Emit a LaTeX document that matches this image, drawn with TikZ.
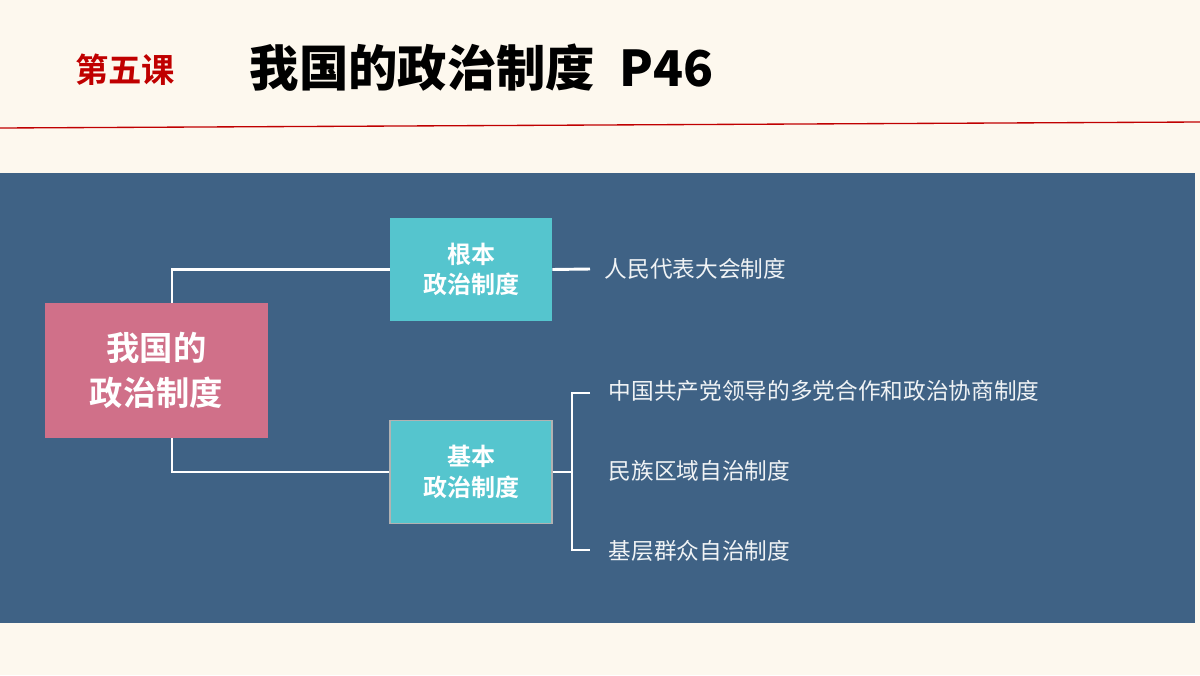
\documentclass[tikz,border=0pt]{standalone}
\usepackage{fontspec}
\newfontfamily\cjk{Noto Sans CJK SC}
\newfontfamily\cjkb{Noto Sans CJK SC Bold}
\definecolor{bg}{HTML}{FDF8EE}
\definecolor{panel}{HTML}{3F6285}
\definecolor{pinkb}{HTML}{D07089}
\definecolor{teal}{HTML}{55C5CE}
\definecolor{redt}{HTML}{C00000}
\begin{document}
\begin{tikzpicture}[x=0.75pt,y=-0.75pt,
  wl/.style={draw=white,line width=2.2pt},
  tb/.style={fill=teal,minimum width=121.5pt,minimum height=77pt,text=white,font=\cjkb\fontsize{18}{23}\selectfont,align=center},
  item/.style={anchor=west,text=white!92!panel,font=\cjk\fontsize{17}{20}\selectfont}]
\useasboundingbox (0,0) rectangle (1200,675);
\fill[bg] (0,0) rectangle (1200,675);
\draw[redt,line width=1pt] (0,128) -- (1200,122);
\node[text=redt,font=\cjkb\fontsize{25}{30}\selectfont] (k) at (125,70) {第五课};
\node[anchor=west,font=\cjk\fontsize{37}{44}\selectfont\bfseries] (t) at (245,68) {我国的政治制度\hspace{0.5em}P46};
\fill[panel] (0,173) rectangle (1195,623);
\node[fill=pinkb,minimum width=167pt,minimum height=101pt,text=white,font=\cjkb\fontsize{25}{34}\selectfont,align=center] (m) at (156.5,370.5) {我国的\\政治制度};
\node[tb] (a) at (471,269.5) {根本\\政治制度};
\node[tb,draw=gray!60,line width=1pt] (b) at (471,472) {基本\\政治制度};
\draw[wl] (172,303) |- (a.west);
\draw[wl] (172,438) |- (b.west);
\coordinate (ae) at (590,269);
\draw[wl] (a.east) -- (ae);
\node[item] (i1) at (600,269) {人民代表大会制度};
\draw[wl] (b.east) -- (572,472);
\draw[wl] (590,393) -- (572,393) -- (572,550) -- (590,550);
\node[item] (i2) at (604,391) {中国共产党领导的多党合作和政治协商制度};
\node[item] (i3) at (604,471) {民族区域自治制度};
\node[item] (i4) at (604,551) {基层群众自治制度};
\end{tikzpicture}
\end{document}
